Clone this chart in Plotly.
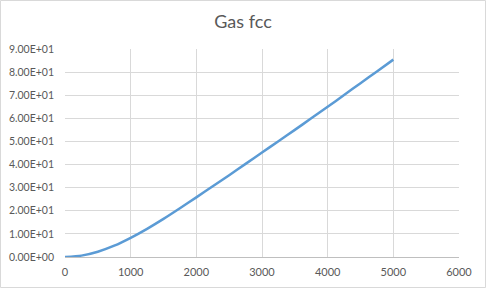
import plotly.graph_objects as go

x_vals = [0, 250, 500, 750, 1000, 1250, 1500, 1750, 2000, 2250, 2500,
          2750, 3000, 3250, 3500, 3750, 4000, 4250, 4500, 4750, 5000]
y_vals = [0.0, 0.6, 2.3, 4.9, 8.3, 12.2, 16.5, 21.1, 25.8, 30.6, 35.4,
          40.3, 45.2, 50.1, 55.0, 60.0, 65.0, 70.1, 75.2, 80.3, 85.4]
y_ticks = [0, 10, 20, 30, 40, 50, 60, 70, 80, 90]
y_ticktext = ["0.00E+00", "1.00E+01", "2.00E+01", "3.00E+01", "4.00E+01",
              "5.00E+01", "6.00E+01", "7.00E+01", "8.00E+01", "9.00E+01"]
x_ticks = [0, 1000, 2000, 3000, 4000, 5000, 6000]
title = "Gas fcc"

W, H = 486, 288
ml, mr, mt, mb = 65, 27, 49, 31
pw, ph = W - ml - mr, H - mt - mb

fig = go.Figure()
fig.add_trace(go.Scatter(x=x_vals, y=y_vals, mode="lines",
                         line=dict(color="#5b9bd5", width=2.5, shape="spline", smoothing=0.6),
                         showlegend=False, hoverinfo="skip"))

yfont = dict(family="Lato, Open Sans, sans-serif", color="#595959", size=10.5)
xfont = dict(family="Lato, Open Sans, sans-serif", color="#595959", size=11)
fig.update_layout(
    width=W, height=H,
    margin=dict(l=ml, r=mr, t=mt, b=mb, autoexpand=False),
    paper_bgcolor="white", plot_bgcolor="white",
    font=xfont,
    title=dict(text=title, x=0.5, xanchor="center", y=1 - 22 / H, yanchor="middle",
               font=dict(family="Lato, Open Sans, sans-serif", size=18, color="#595959")),
    xaxis=dict(range=[0, 6000], tickvals=x_ticks, showgrid=True, gridcolor="#d9d9d9",
               gridwidth=1, zeroline=False, showline=True, linecolor="#bfbfbf",
               linewidth=1, ticks="", tickfont=xfont, ticklabelstandoff=5,
               automargin=False, fixedrange=True),
    yaxis=dict(range=[0, 90], tickvals=y_ticks, ticktext=y_ticktext, showgrid=True,
               gridcolor="#d9d9d9", gridwidth=1, zeroline=False, showline=False,
               ticks="", tickfont=yfont, ticklabelstandoff=10, automargin=False,
               fixedrange=True),
    shapes=[dict(type="rect", xref="paper", yref="paper",
                 x0=(0.5 - ml) / pw, x1=(W - 0.5 - ml) / pw,
                 y0=-(mb - 0.5) / ph, y1=1 + (mt - 0.5) / ph,
                 line=dict(color="#d9d9d9", width=1), layer="below")],
)

fig.write_html("out.html")
